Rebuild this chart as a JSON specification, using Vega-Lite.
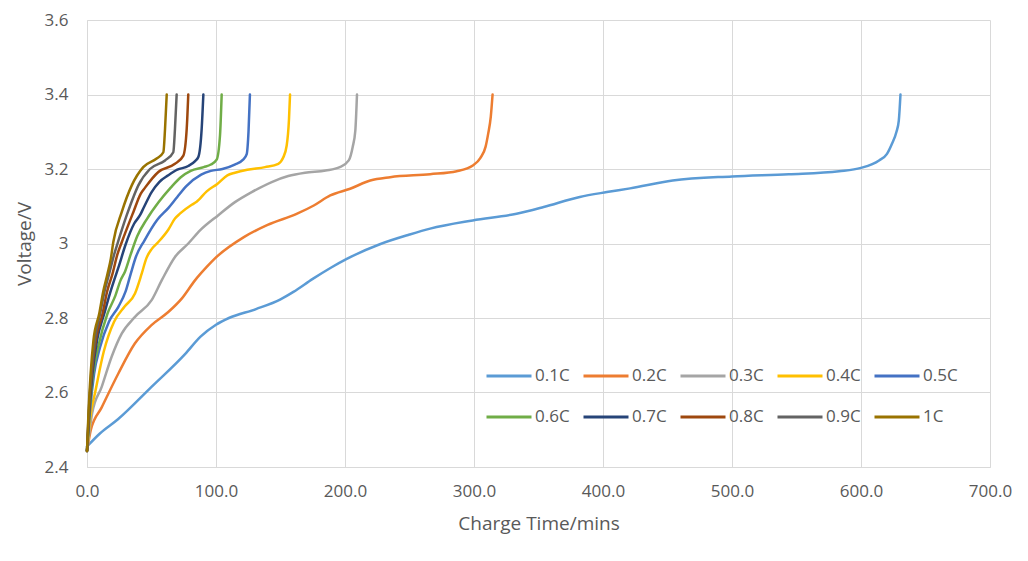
{
  "$schema": "https://vega.github.io/schema/vega-lite/v6.json",
  "width": 903,
  "height": 447,
  "autosize": {"type": "none"},
  "padding": {"left": 87, "top": 20, "right": 38, "bottom": 94},
  "background": "white",
  "datasets": {
    "charge": [
      {"rate": "0.1C", "t": 0, "v": 2.455}, {"rate": "0.1C", "t": 10, "v": 2.49}, {"rate": "0.1C", "t": 24, "v": 2.528}, {"rate": "0.1C", "t": 50, "v": 2.615}, {"rate": "0.1C", "t": 76, "v": 2.703}, {"rate": "0.1C", "t": 88, "v": 2.75}, {"rate": "0.1C", "t": 100, "v": 2.782}, {"rate": "0.1C", "t": 110, "v": 2.8}, {"rate": "0.1C", "t": 131, "v": 2.824}, {"rate": "0.1C", "t": 150, "v": 2.85}, {"rate": "0.1C", "t": 160, "v": 2.87}, {"rate": "0.1C", "t": 175, "v": 2.905}, {"rate": "0.1C", "t": 189, "v": 2.935}, {"rate": "0.1C", "t": 201, "v": 2.958}, {"rate": "0.1C", "t": 227, "v": 2.998}, {"rate": "0.1C", "t": 250, "v": 3.024}, {"rate": "0.1C", "t": 266, "v": 3.04}, {"rate": "0.1C", "t": 299, "v": 3.062}, {"rate": "0.1C", "t": 333, "v": 3.08}, {"rate": "0.1C", "t": 354, "v": 3.098}, {"rate": "0.1C", "t": 382, "v": 3.125}, {"rate": "0.1C", "t": 403, "v": 3.138}, {"rate": "0.1C", "t": 421, "v": 3.148}, {"rate": "0.1C", "t": 454, "v": 3.169}, {"rate": "0.1C", "t": 500, "v": 3.18}, {"rate": "0.1C", "t": 544, "v": 3.186}, {"rate": "0.1C", "t": 583, "v": 3.194}, {"rate": "0.1C", "t": 600, "v": 3.203}, {"rate": "0.1C", "t": 614, "v": 3.223}, {"rate": "0.1C", "t": 620, "v": 3.24}, {"rate": "0.1C", "t": 624, "v": 3.268}, {"rate": "0.1C", "t": 627.5, "v": 3.3}, {"rate": "0.1C", "t": 629.3, "v": 3.33}, {"rate": "0.1C", "t": 630.6, "v": 3.4},

      {"rate": "0.2C", "t": 0, "v": 2.443}, {"rate": "0.2C", "t": 3, "v": 2.5}, {"rate": "0.2C", "t": 11.4, "v": 2.56}, {"rate": "0.2C", "t": 24.3, "v": 2.651}, {"rate": "0.2C", "t": 37.2, "v": 2.732}, {"rate": "0.2C", "t": 50, "v": 2.781}, {"rate": "0.2C", "t": 63, "v": 2.816}, {"rate": "0.2C", "t": 73.4, "v": 2.852}, {"rate": "0.2C", "t": 83.7, "v": 2.901}, {"rate": "0.2C", "t": 92.8, "v": 2.937}, {"rate": "0.2C", "t": 99.2, "v": 2.96}, {"rate": "0.2C", "t": 121.6, "v": 3.017}, {"rate": "0.2C", "t": 140, "v": 3.05}, {"rate": "0.2C", "t": 162.9, "v": 3.08}, {"rate": "0.2C", "t": 175.8, "v": 3.102}, {"rate": "0.2C", "t": 188.6, "v": 3.129}, {"rate": "0.2C", "t": 204, "v": 3.147}, {"rate": "0.2C", "t": 219.6, "v": 3.169}, {"rate": "0.2C", "t": 235, "v": 3.178}, {"rate": "0.2C", "t": 266, "v": 3.186}, {"rate": "0.2C", "t": 286.6, "v": 3.194}, {"rate": "0.2C", "t": 299.4, "v": 3.21}, {"rate": "0.2C", "t": 305, "v": 3.23}, {"rate": "0.2C", "t": 309, "v": 3.26}, {"rate": "0.2C", "t": 311, "v": 3.295}, {"rate": "0.2C", "t": 313, "v": 3.34}, {"rate": "0.2C", "t": 314.4, "v": 3.4},

      {"rate": "0.3C", "t": 0, "v": 2.443}, {"rate": "0.3C", "t": 4, "v": 2.544}, {"rate": "0.3C", "t": 11.4, "v": 2.615}, {"rate": "0.3C", "t": 19.1, "v": 2.696}, {"rate": "0.3C", "t": 26.9, "v": 2.758}, {"rate": "0.3C", "t": 37.2, "v": 2.803}, {"rate": "0.3C", "t": 50.1, "v": 2.848}, {"rate": "0.3C", "t": 57.9, "v": 2.901}, {"rate": "0.3C", "t": 68.2, "v": 2.964}, {"rate": "0.3C", "t": 78.5, "v": 3.0}, {"rate": "0.3C", "t": 87.6, "v": 3.035}, {"rate": "0.3C", "t": 101.8, "v": 3.076}, {"rate": "0.3C", "t": 114.7, "v": 3.111}, {"rate": "0.3C", "t": 127.7, "v": 3.138}, {"rate": "0.3C", "t": 143.2, "v": 3.165}, {"rate": "0.3C", "t": 156, "v": 3.181}, {"rate": "0.3C", "t": 169, "v": 3.19}, {"rate": "0.3C", "t": 185, "v": 3.196}, {"rate": "0.3C", "t": 196, "v": 3.205}, {"rate": "0.3C", "t": 202.9, "v": 3.223}, {"rate": "0.3C", "t": 206, "v": 3.26}, {"rate": "0.3C", "t": 208, "v": 3.303}, {"rate": "0.3C", "t": 209.3, "v": 3.4},

      {"rate": "0.4C", "t": 0, "v": 2.443}, {"rate": "0.4C", "t": 3, "v": 2.544}, {"rate": "0.4C", "t": 6.3, "v": 2.6}, {"rate": "0.4C", "t": 13, "v": 2.71}, {"rate": "0.4C", "t": 21, "v": 2.79}, {"rate": "0.4C", "t": 29, "v": 2.83}, {"rate": "0.4C", "t": 37.2, "v": 2.866}, {"rate": "0.4C", "t": 42.4, "v": 2.919}, {"rate": "0.4C", "t": 46, "v": 2.96}, {"rate": "0.4C", "t": 50.1, "v": 2.985}, {"rate": "0.4C", "t": 55.3, "v": 3.004}, {"rate": "0.4C", "t": 63, "v": 3.037}, {"rate": "0.4C", "t": 68.2, "v": 3.067}, {"rate": "0.4C", "t": 72, "v": 3.08}, {"rate": "0.4C", "t": 81.2, "v": 3.104}, {"rate": "0.4C", "t": 85, "v": 3.112}, {"rate": "0.4C", "t": 92.8, "v": 3.14}, {"rate": "0.4C", "t": 101, "v": 3.16}, {"rate": "0.4C", "t": 108.8, "v": 3.183}, {"rate": "0.4C", "t": 114.7, "v": 3.19}, {"rate": "0.4C", "t": 124.2, "v": 3.198}, {"rate": "0.4C", "t": 138, "v": 3.205}, {"rate": "0.4C", "t": 148.3, "v": 3.214}, {"rate": "0.4C", "t": 152, "v": 3.23}, {"rate": "0.4C", "t": 154.8, "v": 3.263}, {"rate": "0.4C", "t": 156.6, "v": 3.335}, {"rate": "0.4C", "t": 157.4, "v": 3.4},

      {"rate": "0.5C", "t": 0, "v": 2.443}, {"rate": "0.5C", "t": 2.3, "v": 2.55}, {"rate": "0.5C", "t": 5.5, "v": 2.65}, {"rate": "0.5C", "t": 10, "v": 2.72}, {"rate": "0.5C", "t": 17, "v": 2.79}, {"rate": "0.5C", "t": 24.3, "v": 2.83}, {"rate": "0.5C", "t": 30, "v": 2.872}, {"rate": "0.5C", "t": 34, "v": 2.92}, {"rate": "0.5C", "t": 38, "v": 2.965}, {"rate": "0.5C", "t": 44.5, "v": 3.008}, {"rate": "0.5C", "t": 54.5, "v": 3.064}, {"rate": "0.5C", "t": 63, "v": 3.095}, {"rate": "0.5C", "t": 70, "v": 3.125}, {"rate": "0.5C", "t": 77, "v": 3.154}, {"rate": "0.5C", "t": 88.5, "v": 3.185}, {"rate": "0.5C", "t": 96, "v": 3.195}, {"rate": "0.5C", "t": 105, "v": 3.2}, {"rate": "0.5C", "t": 114.5, "v": 3.212}, {"rate": "0.5C", "t": 121, "v": 3.225}, {"rate": "0.5C", "t": 123.8, "v": 3.24}, {"rate": "0.5C", "t": 125.2, "v": 3.3}, {"rate": "0.5C", "t": 126.3, "v": 3.4},

      {"rate": "0.6C", "t": 0, "v": 2.443}, {"rate": "0.6C", "t": 2, "v": 2.55}, {"rate": "0.6C", "t": 4.7, "v": 2.65}, {"rate": "0.6C", "t": 8.7, "v": 2.723}, {"rate": "0.6C", "t": 15.9, "v": 2.812}, {"rate": "0.6C", "t": 22, "v": 2.86}, {"rate": "0.6C", "t": 26, "v": 2.901}, {"rate": "0.6C", "t": 29.5, "v": 2.925}, {"rate": "0.6C", "t": 33.8, "v": 2.97}, {"rate": "0.6C", "t": 39, "v": 3.02}, {"rate": "0.6C", "t": 46.3, "v": 3.065}, {"rate": "0.6C", "t": 55.3, "v": 3.11}, {"rate": "0.6C", "t": 64.9, "v": 3.15}, {"rate": "0.6C", "t": 72.7, "v": 3.178}, {"rate": "0.6C", "t": 80.4, "v": 3.195}, {"rate": "0.6C", "t": 90.5, "v": 3.205}, {"rate": "0.6C", "t": 96, "v": 3.212}, {"rate": "0.6C", "t": 100.5, "v": 3.225}, {"rate": "0.6C", "t": 103.1, "v": 3.29}, {"rate": "0.6C", "t": 104.4, "v": 3.4},

      {"rate": "0.7C", "t": 0, "v": 2.443}, {"rate": "0.7C", "t": 1.8, "v": 2.55}, {"rate": "0.7C", "t": 4.2, "v": 2.65}, {"rate": "0.7C", "t": 7.8, "v": 2.74}, {"rate": "0.7C", "t": 13.4, "v": 2.812}, {"rate": "0.7C", "t": 17.8, "v": 2.866}, {"rate": "0.7C", "t": 21, "v": 2.901}, {"rate": "0.7C", "t": 24.3, "v": 2.935}, {"rate": "0.7C", "t": 30, "v": 2.998}, {"rate": "0.7C", "t": 36.5, "v": 3.053}, {"rate": "0.7C", "t": 41.1, "v": 3.076}, {"rate": "0.7C", "t": 44.2, "v": 3.098}, {"rate": "0.7C", "t": 50.1, "v": 3.138}, {"rate": "0.7C", "t": 56, "v": 3.165}, {"rate": "0.7C", "t": 63, "v": 3.183}, {"rate": "0.7C", "t": 70, "v": 3.198}, {"rate": "0.7C", "t": 78.5, "v": 3.208}, {"rate": "0.7C", "t": 84, "v": 3.222}, {"rate": "0.7C", "t": 86.3, "v": 3.232}, {"rate": "0.7C", "t": 88.9, "v": 3.308}, {"rate": "0.7C", "t": 90.2, "v": 3.4},

      {"rate": "0.8C", "t": 0, "v": 2.443}, {"rate": "0.8C", "t": 1.6, "v": 2.55}, {"rate": "0.8C", "t": 3.7, "v": 2.65}, {"rate": "0.8C", "t": 6.8, "v": 2.74}, {"rate": "0.8C", "t": 12.1, "v": 2.812}, {"rate": "0.8C", "t": 15.5, "v": 2.87}, {"rate": "0.8C", "t": 19.8, "v": 2.919}, {"rate": "0.8C", "t": 23.5, "v": 2.97}, {"rate": "0.8C", "t": 27, "v": 3.004}, {"rate": "0.8C", "t": 35.9, "v": 3.084}, {"rate": "0.8C", "t": 41.7, "v": 3.134}, {"rate": "0.8C", "t": 45, "v": 3.15}, {"rate": "0.8C", "t": 55.3, "v": 3.192}, {"rate": "0.8C", "t": 68.2, "v": 3.214}, {"rate": "0.8C", "t": 74.7, "v": 3.236}, {"rate": "0.8C", "t": 77.3, "v": 3.308}, {"rate": "0.8C", "t": 78.5, "v": 3.4},

      {"rate": "0.9C", "t": 0, "v": 2.443}, {"rate": "0.9C", "t": 1.4, "v": 2.55}, {"rate": "0.9C", "t": 3.3, "v": 2.65}, {"rate": "0.9C", "t": 6, "v": 2.74}, {"rate": "0.9C", "t": 10.2, "v": 2.812}, {"rate": "0.9C", "t": 13.5, "v": 2.87}, {"rate": "0.9C", "t": 17.2, "v": 2.919}, {"rate": "0.9C", "t": 21, "v": 2.97}, {"rate": "0.9C", "t": 24, "v": 3.004}, {"rate": "0.9C", "t": 30.8, "v": 3.076}, {"rate": "0.9C", "t": 36, "v": 3.125}, {"rate": "0.9C", "t": 39.8, "v": 3.156}, {"rate": "0.9C", "t": 48.8, "v": 3.2}, {"rate": "0.9C", "t": 60.5, "v": 3.223}, {"rate": "0.9C", "t": 66.9, "v": 3.245}, {"rate": "0.9C", "t": 68.2, "v": 3.308}, {"rate": "0.9C", "t": 69.5, "v": 3.4},

      {"rate": "1C", "t": 0, "v": 2.443}, {"rate": "1C", "t": 1.2, "v": 2.55}, {"rate": "1C", "t": 2.8, "v": 2.65}, {"rate": "1C", "t": 5, "v": 2.74}, {"rate": "1C", "t": 9.5, "v": 2.812}, {"rate": "1C", "t": 12.5, "v": 2.87}, {"rate": "1C", "t": 15.9, "v": 2.919}, {"rate": "1C", "t": 18.5, "v": 2.96}, {"rate": "1C", "t": 20.4, "v": 3.004}, {"rate": "1C", "t": 26.9, "v": 3.084}, {"rate": "1C", "t": 34.7, "v": 3.156}, {"rate": "1C", "t": 43.6, "v": 3.205}, {"rate": "1C", "t": 54, "v": 3.228}, {"rate": "1C", "t": 59.2, "v": 3.245}, {"rate": "1C", "t": 60.5, "v": 3.308}, {"rate": "1C", "t": 61.8, "v": 3.4}
    ]
  },
  "data": {"name": "charge"},
  "mark": {"type": "line", "strokeWidth": 2.5, "strokeCap": "round", "strokeJoin": "round", "interpolate": "monotone"},
  "encoding": {
    "x": {
      "field": "t",
      "type": "quantitative",
      "title": "Charge Time/mins",
      "scale": {"domain": [0, 700], "nice": false},
      "axis": {"values": [0, 100, 200, 300, 400, 500, 600, 700], "format": ".1f", "labelPadding": 16, "titlePadding": 15, "labelFlush": false}
    },
    "y": {
      "field": "v",
      "type": "quantitative",
      "title": "Voltage/V",
      "scale": {"domain": [2.4, 3.6], "nice": false, "zero": false},
      "axis": {"values": [2.4, 2.6, 2.8, 3.0, 3.2, 3.4, 3.6], "format": "~g", "labelPadding": 19, "titlePadding": 10, "labelFlush": false}
    },
    "color": {
      "field": "rate",
      "type": "nominal",
      "scale": {
        "domain": ["0.1C", "0.2C", "0.3C", "0.4C", "0.5C", "0.6C", "0.7C", "0.8C", "0.9C", "1C"],
        "range": ["#5B9BD5", "#ED7D31", "#A5A5A5", "#FFC000", "#4472C4", "#70AD47", "#264478", "#9E480E", "#636363", "#997300"]
      },
      "legend": {
        "title": null,
        "orient": "none",
        "legendX": 398,
        "legendY": 332,
        "columns": 5,
        "direction": "horizontal",
        "symbolType": "stroke",
        "symbolSize": 2025,
        "symbolStrokeWidth": 3,
        "labelOffset": 2,
        "columnPadding": 7,
        "rowPadding": 9,
        "labelFontSize": 17,
        "labelFont": "Open Sans",
        "labelColor": "#595959"
      }
    }
  },
  "config": {
    "view": {"stroke": null},
    "font": "Open Sans",
    "axis": {
      "gridColor": "#D9D9D9",
      "domainColor": "#D9D9D9",
      "ticks": false,
      "labelFontSize": 17,
      "labelColor": "#595959",
      "titleFontSize": 19,
      "titleFontWeight": "normal",
      "titleColor": "#595959"
    }
  }
}
